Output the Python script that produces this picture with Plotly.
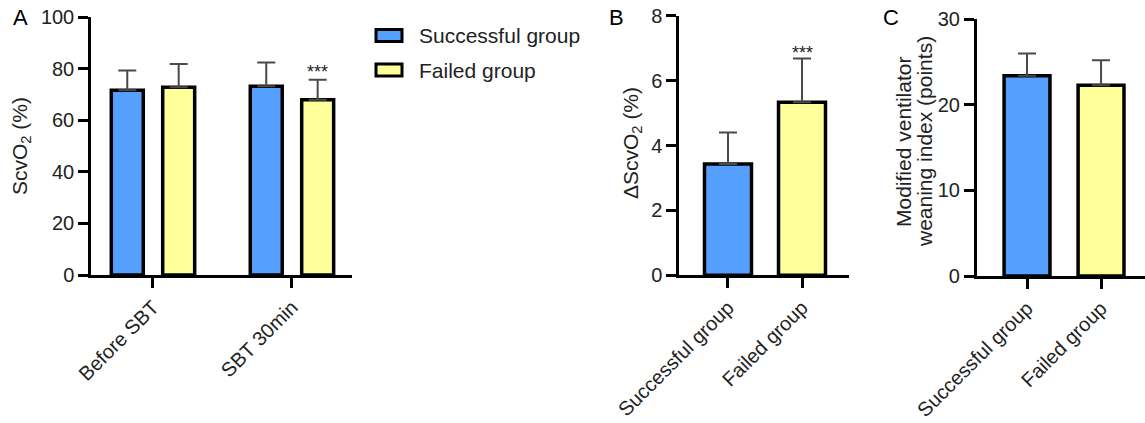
import plotly.graph_objects as go

W, H = 1145, 423

# ---- data ----
timepoints = ["Before SBT", "SBT 30min"]
scvo2_success = [71.6, 73.2]
scvo2_success_sd = [7.7, 9.2]
scvo2_failed = [72.8, 67.9]
scvo2_failed_sd = [9.0, 7.8]

groups = ["Successful group", "Failed group"]
delta_scvo2 = [3.43, 5.33]
delta_scvo2_sd = [0.97, 1.35]
mvwi = [23.4, 22.3]
mvwi_sd = [2.6, 2.9]

BLUE = "#559FFF"
YELLOW = "#FFFF99"
ERR = "#4a4a4a"
FONT = "Liberation Sans, Arial, sans-serif"


def px_x(p):
    return p / W


def px_y(p):
    return 1 - p / H


fig = go.Figure()

err_style = dict(type="data", symmetric=False, color=ERR, thickness=2, width=9)

# Panel A
fig.add_trace(go.Bar(x=[0, 1], y=scvo2_success, width=0.23, offset=-0.30,
                     marker=dict(color=BLUE, line=dict(color="black", width=3.5)),
                     error_y=dict(array=scvo2_success_sd, arrayminus=[0, 0], **err_style),
                     xaxis="x", yaxis="y", showlegend=False, name="Successful group"))
fig.add_trace(go.Bar(x=[0, 1], y=scvo2_failed, width=0.23, offset=0.07,
                     marker=dict(color=YELLOW, line=dict(color="black", width=3.5)),
                     error_y=dict(array=scvo2_failed_sd, arrayminus=[0, 0], **err_style),
                     xaxis="x", yaxis="y", showlegend=False, name="Failed group"))

# Panel B
fig.add_trace(go.Bar(x=[0, 1], y=delta_scvo2, width=0.635,
                     marker=dict(color=[BLUE, YELLOW], line=dict(color="black", width=3.5)),
                     error_y=dict(array=delta_scvo2_sd, arrayminus=[0, 0], **err_style),
                     xaxis="x2", yaxis="y2", showlegend=False))

# Panel C
fig.add_trace(go.Bar(x=[0, 1], y=mvwi, width=0.62,
                     marker=dict(color=[BLUE, YELLOW], line=dict(color="black", width=3.5)),
                     error_y=dict(array=mvwi_sd, arrayminus=[0, 0], **err_style),
                     xaxis="x3", yaxis="y3", showlegend=False))

tickfont = dict(family=FONT, size=20, color="#222222")
ax_common = dict(showline=True, linecolor="black", linewidth=2.5, ticks="outside",
                 ticklen=10, tickwidth=2.5, tickcolor="black", showgrid=False,
                 zeroline=False, tickfont=tickfont, automargin=False)

fig.update_layout(
    xaxis=dict(domain=[px_x(91), px_x(352)], range=[-0.446, 1.432],
               tickmode="array", tickvals=[0, 1], ticktext=timepoints,
               tickangle=-45, anchor="y", **ax_common),
    yaxis=dict(domain=[px_y(275), px_y(17)], range=[0, 100],
               tickmode="array", tickvals=[0, 20, 40, 60, 80, 100],
               anchor="x", **ax_common),
    xaxis2=dict(domain=[px_x(679), px_x(849)], range=[-0.662, 1.635],
                tickmode="array", tickvals=[0, 1], ticktext=groups,
                tickangle=-45, anchor="y2", **ax_common),
    yaxis2=dict(domain=[px_y(275.3), px_y(15.7)], range=[0, 8],
                tickmode="array", tickvals=[0, 2, 4, 6, 8],
                anchor="x2", **ax_common),
    xaxis3=dict(domain=[px_x(976.7), 1.0], range=[-0.68, 1.594],
                tickmode="array", tickvals=[0, 1], ticktext=groups,
                tickangle=-45, anchor="y3", **ax_common),
    yaxis3=dict(domain=[px_y(276), px_y(19.3)], range=[0, 30],
                tickmode="array", tickvals=[0, 10, 20, 30],
                anchor="x3", **ax_common),
)

annots = []
titlefont = dict(family=FONT, size=21, color="#222222")
annots.append(dict(text="ScvO<sub>2</sub> (%)", xref="paper", yref="paper",
                   x=px_x(21), y=px_y(146), textangle=-90, showarrow=False,
                   font=titlefont, xanchor="center", yanchor="middle"))
annots.append(dict(text="ΔScvO<sub>2</sub> (%)", xref="paper", yref="paper",
                   x=px_x(632), y=px_y(143), textangle=-90, showarrow=False,
                   font=titlefont, xanchor="center", yanchor="middle"))
annots.append(dict(text="Modified ventilator", xref="paper",
                   yref="paper", x=px_x(903), y=px_y(142), textangle=-90,
                   showarrow=False, font=titlefont, xanchor="center", yanchor="middle"))
annots.append(dict(text="weaning index (points)", xref="paper",
                   yref="paper", x=px_x(924), y=px_y(142), textangle=-90,
                   showarrow=False, font=titlefont, xanchor="center", yanchor="middle"))
letter_font = dict(family=FONT, size=22, color="black")
for t, xp in [("A", 20), ("B", 617), ("C", 891)]:
    annots.append(dict(text=t, xref="paper", yref="paper", x=px_x(xp), y=px_y(18),
                       showarrow=False, font=letter_font, xanchor="center", yanchor="middle"))

star_font = dict(family=FONT, size=18, color="#222222")
annots.append(dict(text="***", xref="x", yref="y", x=1.183,
                   y=scvo2_failed[1] + scvo2_failed_sd[1], yshift=8,
                   showarrow=False, font=star_font, xanchor="center", yanchor="middle"))
annots.append(dict(text="***", xref="x2", yref="y2", x=1.0,
                   y=delta_scvo2[1] + delta_scvo2_sd[1], yshift=6,
                   showarrow=False, font=star_font, xanchor="center", yanchor="middle"))

# legend (drawn manually)
shapes = []
leg_font = dict(family=FONT, size=21, color="#222222")
for i, (name, col) in enumerate(zip(groups, [BLUE, YELLOW])):
    yc = 35.5 + i * 34.5
    shapes.append(dict(type="rect", xref="paper", yref="paper",
                       x0=px_x(376), x1=px_x(402), y0=px_y(yc - 6), y1=px_y(yc + 6),
                       fillcolor=col, line=dict(color="black", width=3)))
    annots.append(dict(text=name, xref="paper", yref="paper", x=px_x(417), y=px_y(yc),
                       showarrow=False, font=leg_font, xanchor="left", yanchor="middle"))

fig.update_layout(
    width=W, height=H, margin=dict(l=0, r=0, t=0, b=0),
    paper_bgcolor="white", plot_bgcolor="white",
    annotations=annots, shapes=shapes, showlegend=False,
    font=dict(family=FONT),
)

fig.write_html("out.html", config={"displayModeBar": False},
               post_script="document.body.style.margin='0';document.body.style.overflow='hidden';")
